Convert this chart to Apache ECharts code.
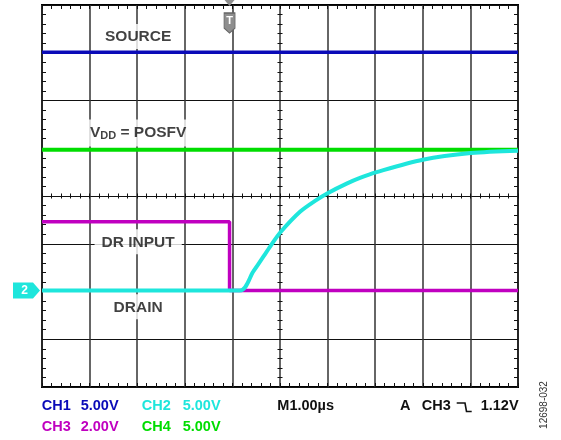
<!DOCTYPE html>
<html>
<head>
<meta charset="utf-8">
<script src="https://cdn.jsdelivr.net/npm/echarts@6/dist/echarts.min.js"></script>
<style>
  html, body { margin: 0; padding: 0; background: #fff; }
  #chart { width: 561px; height: 440px; }
</style>
</head>
<body>
<div id="chart"></div>
<script>
// time axis in µs (M1.00µs/div), vertical axis in screen divisions
const timeRange = [-4, 6];
const divRange = [-4, 4];
const trigTime = -0.06;

// CH1 SOURCE, CH4 VDD, CH3 DR INPUT, CH2 DRAIN  [µs, div]
const ch1Source = [[-4, 3.01], [6, 3.01]];
const ch4Vdd = [[-4, 0.97], [6, 0.97]];
const ch3DrInput = [[-4, -0.54], [-0.06, -0.54], [-0.06, -1.98], [6, -1.98]];
const ch2Drain = [
  [-4, -1.98], [0.16, -1.98], [0.44, -1.58], [0.65, -1.27], [0.80, -1.05],
  [1.00, -0.77], [1.42, -0.33], [1.77, -0.08], [2.00, 0.06], [2.40, 0.26],
  [2.68, 0.38], [3.03, 0.50], [4.00, 0.76], [5.01, 0.90], [6.00, 0.95]
];

// trace labels [µs, div, text]
const traceLabels = [
  [-1.98, 3.34, 'SOURCE'],
  [-1.98, 1.32, 'VDD'],
  [-1.98, -0.96, 'DR INPUT'],
  [-1.98, -2.32, 'DRAIN']
];

const FONT = '"Liberation Sans", Arial, sans-serif';
const C_BLUE = '#0a0ab8';
const C_CYAN = '#1ee6dc';
const C_MAG = '#c000c0';
const C_GREEN = '#00dd00';

const chart = echarts.init(document.getElementById('chart'));

const minor = (len) => ({ show: true, splitNumber: 5, length: len, lineStyle: { color: '#111', width: 1 } });

function xAx(position, offset, inside, len, grid) {
  return {
    type: 'value', min: timeRange[0], max: timeRange[1], interval: 1,
    position: position, offset: offset,
    axisLine: { show: false, onZero: false },
    axisTick: { show: true, inside: inside, length: len, lineStyle: { color: '#111' } },
    minorTick: minor(len),
    axisLabel: { show: false },
    splitLine: grid ? { show: true, lineStyle: { color: '#333', width: 1.5 } } : { show: false }
  };
}
function yAx(position, offset, inside, len, grid) {
  return {
    type: 'value', min: divRange[0], max: divRange[1], interval: 1,
    position: position, offset: offset,
    axisLine: { show: false, onZero: false },
    axisTick: { show: true, inside: inside, length: len, lineStyle: { color: '#111' } },
    minorTick: minor(len),
    axisLabel: { show: false },
    splitLine: grid ? { show: true, lineStyle: { color: '#111', width: 1 } } : { show: false }
  };
}

function trace(name, data, color, width) {
  return {
    name: name, type: 'line', data: data, z: 5,
    showSymbol: false, symbol: 'none', silent: true,
    lineStyle: { color: color, width: width },
    itemStyle: { color: color }
  };
}

const drain = trace('CH2', ch2Drain, C_CYAN, 4);
drain.smooth = 0.3;
drain.z = 6;
drain.markPoint = {
  silent: true,
  data: [{
    coord: ch2Drain[0],
    symbol: 'path://M0,0 L20,0 L27,8 L20,16 L0,16 Z',
    symbolSize: [27, 16], symbolKeepAspect: false, symbolOffset: [-15.5, 0],
    itemStyle: { color: C_CYAN },
    label: { show: true, formatter: '2', color: '#fff', fontFamily: FONT, fontWeight: 'bold', fontSize: 12, offset: [-2, 0] }
  }]
};

const drInput = trace('CH3', ch3DrInput, C_MAG, 3.5);
drInput.markPoint = {
  silent: true,
  data: [
    {
      coord: [trigTime, divRange[1]],
      symbol: 'path://M0,0 L12,0 L12,15 L6,20 L0,15 Z',
      symbolSize: [11, 20], symbolKeepAspect: false, symbolOffset: [0, 18],
      itemStyle: { color: '#8e8e8e', borderColor: '#666', borderWidth: 1 },
      label: { show: true, formatter: 'T', color: '#fff', fontFamily: FONT, fontWeight: 'bold', fontSize: 11, offset: [0, -2] }
    },
    {
      coord: [trigTime, divRange[1]],
      symbol: 'triangle', symbolRotate: 180,
      symbolSize: [10, 6], symbolOffset: [0, -2],
      itemStyle: { color: '#8e8e8e' },
      label: { show: false }
    }
  ]
};

const labelSeries = {
  type: 'scatter', z: 3, silent: true,
  symbolSize: 0,
  data: traceLabels.map(d => ({ value: [d[0], d[1]], name: d[2] })),
  label: {
    show: true, position: 'inside',
    backgroundColor: '#fff', padding: [5, 7, 4, 7],
    color: '#111', fontFamily: FONT, fontWeight: 'bold', fontSize: 15.5,
    formatter: (p) => p.name === 'VDD' ? '{v|V}{s|DD}{v| = POSFV}' : p.name,
    rich: {
      v: { fontFamily: FONT, fontWeight: 'bold', fontSize: 15.5, color: '#111', verticalAlign: 'top', lineHeight: 18 },
      s: { fontFamily: FONT, fontWeight: 'bold', fontSize: 11, color: '#111', verticalAlign: 'top', padding: [6, 0, 0, 0] }
    }
  }
};

function txt(x, y, text, color, extra) {
  return Object.assign({
    type: 'text', x: x, y: y, silent: true,
    style: { text: text, fill: color, font: 'bold 14.5px ' + FONT, verticalAlign: 'middle', align: 'left' }
  }, extra || {});
}

const option = {
  animation: false,
  backgroundColor: '#fff',
  grid: {
    left: 42, right: 43, top: 5, bottom: 53,
    show: true, borderColor: '#000', borderWidth: 2, backgroundColor: 'transparent'
  },
  xAxis: [
    xAx('bottom', 0, true, 4, true),
    xAx('top', 0, true, 4, false),
    xAx('bottom', -191, true, 2.5, false),
    xAx('top', -191, true, 2.5, false)
  ],
  yAxis: [
    yAx('left', 0, true, 4, true),
    yAx('right', 0, true, 4, false),
    yAx('left', -238, true, 2.5, false),
    yAx('right', -238, true, 2.5, false)
  ],
  series: [
    labelSeries,
    trace('CH1', ch1Source, C_BLUE, 3.5),
    trace('CH4', ch4Vdd, C_GREEN, 4),
    drInput,
    drain
  ],
  graphic: [
    txt(41.7, 406, 'CH1', C_BLUE),
    txt(80.7, 406, '5.00V', C_BLUE),
    txt(141.7, 406, 'CH2', C_CYAN),
    txt(182.7, 406, '5.00V', C_CYAN),
    txt(277.3, 406, 'M1.00µs', '#111'),
    txt(400, 406, 'A', '#111'),
    txt(421.7, 406, 'CH3', '#111'),
    {
      type: 'polyline', silent: true,
      shape: { points: [[456.7, 403], [465, 403], [466.5, 411.5], [471.7, 411.5]] },
      style: { stroke: '#111', lineWidth: 1.6, fill: null }
    },
    txt(480.7, 406, '1.12V', '#111'),
    txt(41.7, 427, 'CH3', C_MAG),
    txt(80.7, 427, '2.00V', C_MAG),
    txt(141.7, 427, 'CH4', C_GREEN),
    txt(182.7, 427, '5.00V', C_GREEN),
    {
      type: 'text', x: 544, y: 405, rotation: Math.PI / 2, silent: true,
      style: { text: '12698-032', fill: '#333', font: '10px ' + FONT, align: 'center', verticalAlign: 'middle' }
    }
  ]
};

chart.setOption(option);
</script>
</body>
</html>
